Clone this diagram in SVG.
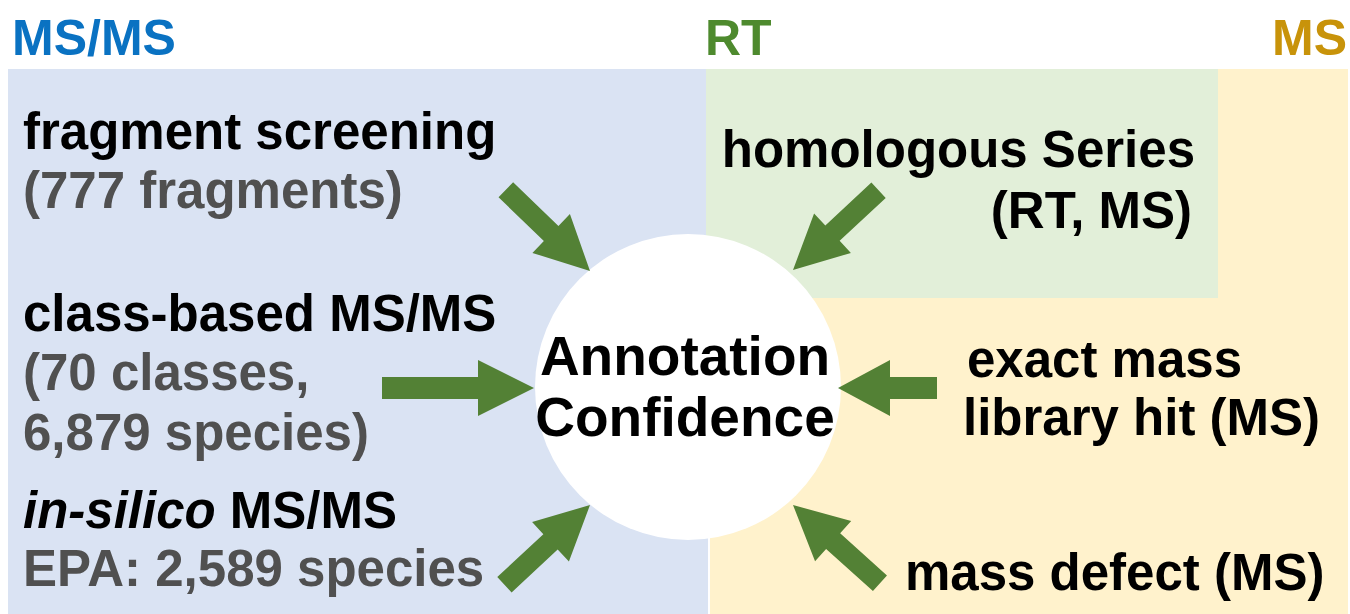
<svg xmlns="http://www.w3.org/2000/svg" width="1350" height="614" viewBox="0 0 1350 614">
<style>
  text { font-family: "Liberation Sans", Arial, sans-serif; font-weight: bold; font-size: 51px; }
  .hd { font-size: 50px; }
  .ctr { font-size: 55px; }
  .k { fill: #000000; }
  .g { fill: #505050; }
  .arrow { fill: #538135; }
</style>
<defs>
  <path id="arrD" d="M0,0 L-54,-27 L-54,-10.5 L-117,-10.5 L-117,10.5 L-54,10.5 L-54,27 Z"/>
</defs>
<rect width="1350" height="614" fill="#ffffff"/>
<g id="background">
  <rect x="8" y="69" width="700" height="545" fill="#dae3f3"/>
  <rect x="706" y="69" width="512" height="229" fill="#e2efd9"/>
  <rect x="1218" y="69" width="130" height="229" fill="#fff2cc"/>
  <rect x="710" y="298" width="638" height="316" fill="#fff2cc"/>
</g>
<g id="headers">
  <text class="hd" x="12" y="55" fill="#0a72c2">MS/MS</text>
  <text class="hd" x="705" y="55" fill="#4e8a2e">RT</text>
  <text class="hd" x="1347" y="55" text-anchor="end" fill="#c8930a">MS</text>
</g>
<g id="center">
  <circle cx="688" cy="387" r="153" fill="#ffffff"/>
  <text class="k ctr" x="685" y="375" text-anchor="middle">Annotation</text>
  <text class="k ctr" x="685" y="436" text-anchor="middle">Confidence</text>
</g>
<g id="fragment-screening">
  <text class="k" x="23" y="149">fragment screening</text>
  <text class="g" x="23" y="208">(777 fragments)</text>
</g>
<g id="class-based">
  <text class="k" x="23" y="331">class-based MS/MS</text>
  <text class="g" x="23" y="390">(70 classes,</text>
  <text class="g" x="23" y="450">6,879 species)</text>
</g>
<g id="in-silico">
  <text class="k" x="23" y="528"><tspan font-style="italic">in-silico</tspan> MS/MS</text>
  <text class="g" x="23" y="586">EPA: 2,589 species</text>
</g>
<g id="homologous">
  <text class="k" x="1195" y="167" text-anchor="end">homologous Series</text>
  <text class="k" x="1192" y="228" text-anchor="end">(RT, MS)</text>
</g>
<g id="exact-mass">
  <text class="k" x="967" y="377">exact mass</text>
  <text class="k" x="963" y="435">library hit (MS)</text>
</g>
<g id="mass-defect">
  <text class="k" x="905" y="590">mass defect (MS)</text>
</g>
<g id="connectors" class="arrow">
  <use href="#arrD" transform="translate(590,271) rotate(44)"/>
  <use href="#arrD" transform="translate(793,270) rotate(137)"/>
  <use href="#arrD" transform="translate(590,505) rotate(-43)"/>
  <use href="#arrD" transform="translate(793,505) rotate(-138)"/>
  <path d="M534,388 L478,360 L478,377 L382,377 L382,399 L478,399 L478,416 Z"/>
  <path d="M838,388 L890,360 L890,377 L937,377 L937,399 L890,399 L890,416 Z"/>
</g>
</svg>
